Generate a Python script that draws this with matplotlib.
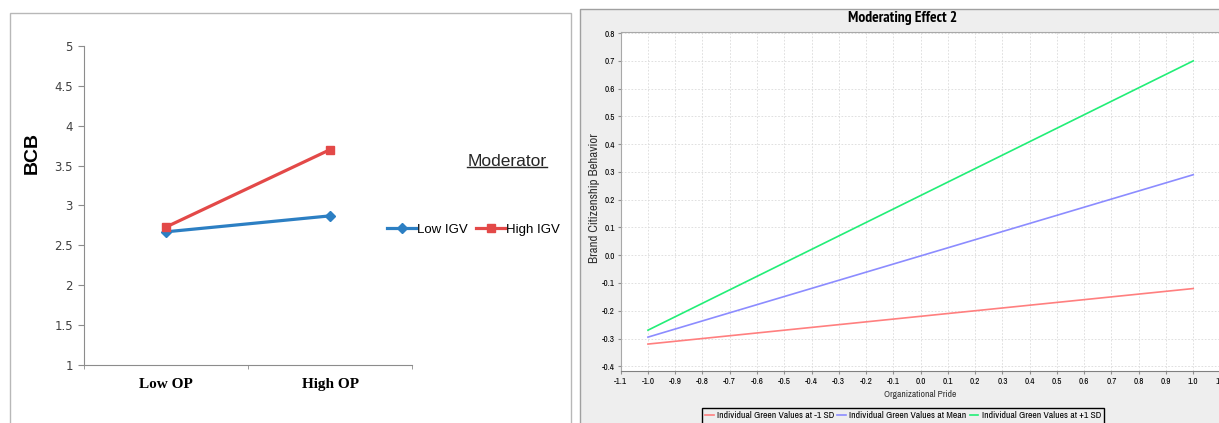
import os
import numpy as np
import matplotlib
matplotlib.use("Agg")
import matplotlib.pyplot as plt
from matplotlib import font_manager
from matplotlib.patches import Rectangle
from matplotlib.lines import Line2D

W, H = 1219, 423

# --- left chart (interaction plot) ---
op_levels = ['Low OP', 'High OP']
low_igv = [2.67, 2.87]
high_igv = [2.73, 3.70]
bcb_ticks = [1, 1.5, 2, 2.5, 3, 3.5, 4, 4.5, 5]

# --- right chart (simple slopes) ---
pride_ends = [-1.0, 1.0]
minus_sd = [-0.32, -0.12]
at_mean = [-0.295, 0.29]
plus_sd = [-0.27, 0.70]
series_names = ['Individual Green Values at -1 SD',
                'Individual Green Values at Mean',
                'Individual Green Values at +1 SD']
series_colors = ['#ff7f7f', '#8c8cff', '#22ee77']
pride_ticks = [round(v / 10, 1) for v in range(-11, 12)]
bcb2_ticks = [round(v / 10, 1) for v in range(-4, 9)]


def px(x, y):
    # pixel position in the reference -> figure fraction
    return x / W, 1 - y / H


def narrow(size, bold=False):
    # the java chart uses a narrow sans; prefer "narrow", then "condensed"
    cands = []
    for f in font_manager.fontManager.ttflist:
        name = os.path.basename(f.fname).lower()
        if 'narrow' not in name and 'condensed' not in name:
            continue
        if any(k in name for k in ('italic', 'oblique', 'light', 'thin', 'black', 'semi', 'extra', 'medium')):
            continue
        if ('bold' in name) != bold:
            continue
        cands.append((0 if 'narrow' in name else 1, f.fname))
    if cands:
        return font_manager.FontProperties(fname=sorted(cands)[0][1], size=size)
    return font_manager.FontProperties(family='Liberation Sans',
                                       weight='bold' if bold else 'normal', size=size)


def fit(texts, target, horizontal=True):
    # scale font size so the first text spans `target` pixels like in the reference
    r = fig.canvas.get_renderer()
    bb = texts[0].get_window_extent(r)
    cur = bb.width if horizontal else bb.height
    k = target / cur
    for t in texts:
        t.set_fontsize(t.get_fontsize() * k)


fig = plt.figure(figsize=(W / 100, H / 100), dpi=100)
fig.patch.set_facecolor('white')

# frame of the excel chart
fig.add_artist(Rectangle((10 / W, -0.02), 561 / W, 1 - 13 / H + 0.02, transform=fig.transFigure,
                         facecolor='white', edgecolor='#b8b8b8', lw=1, zorder=-2))
# grey panel of the java chart
fig.add_artist(Rectangle((580 / W, -0.02), 1 - 580 / W + 0.02, 1 - 9 / H + 0.02, transform=fig.transFigure,
                         facecolor='#eeeeee', edgecolor='#a0a0a0', lw=1, zorder=-2))

# ---------------- left ----------------
axl = fig.add_axes([84 / W, 1 - 365 / H, 328 / W, 319 / H])
axl.set_facecolor('white')
x = np.arange(len(op_levels))
axl.plot(x, low_igv, color='#2c7fc3', lw=2.3, marker='D', ms=5.5, label='Low IGV')
axl.plot(x, high_igv, color='#e34948', lw=2.3, marker='s', ms=6, label='High IGV')
axl.set_xlim(-0.5, len(op_levels) - 0.5)
axl.set_ylim(1, 5)
axl.set_yticks(bcb_ticks, [f'{t:g}' for t in bcb_ticks])
axl.set_xticks(x, op_levels, fontfamily='Liberation Serif', fontweight='bold', fontsize=11)
axl.set_xticks(np.arange(len(op_levels) + 1) - 0.5, minor=True)
axl.tick_params(axis='x', which='major', length=0, pad=9)
axl.tick_params(axis='x', which='minor', length=3, color='#8c8c8c')
axl.tick_params(axis='y', length=4, color='#8c8c8c', labelcolor='#404040', labelsize=8.5, pad=4)
for s in ['top', 'right']:
    axl.spines[s].set_visible(False)
for s in ['left', 'bottom']:
    axl.spines[s].set_color('#8c8c8c')

fig.text(*px(32, 153), 'BCB', rotation=90, ha='center', va='center',
         fontsize=14, fontweight='bold', family='Liberation Sans')
mod = fig.text(*px(507, 161), 'Moderator', ha='center', va='center',
               fontsize=12.5, family='Liberation Sans', color='#262626')

axl.legend(loc='center left', bbox_to_anchor=px(387, 230), bbox_transform=fig.transFigure,
           ncol=2, frameon=False, borderpad=0, borderaxespad=0, handlelength=2.2,
           handletextpad=0.1, columnspacing=0.6, prop={'family': 'Liberation Sans', 'size': 9.5})

# ---------------- right ----------------
axr = fig.add_axes([620.7 / W, 1 - 371 / H, (1220.5 - 620.7) / W, 339 / H])
axr.set_facecolor('white')
for vals, name, col in zip([minus_sd, at_mean, plus_sd], series_names, series_colors):
    axr.plot(pride_ends, vals, color=col, lw=1.2, label=name)
axr.set_xlim(-1.1, 1.1)
axr.set_ylim(-0.417, 0.804)
axr.set_xticks(pride_ticks, [f'{t:.1f}' for t in pride_ticks])
axr.set_yticks(bcb2_ticks, [f'{t:.1f}' for t in bcb2_ticks])
axr.grid(True, color='#dadada', ls=(0, (2, 2)), lw=0.6)
axr.tick_params(length=2, color='#909090', pad=2)
tick_fp = narrow(6.5)
for lab in axr.get_xticklabels() + axr.get_yticklabels():
    lab.set_fontproperties(tick_fp)
for s in axr.spines.values():
    s.set_color('#a8a8a8')
axr.spines['bottom'].set_color('#808080')

ylab = fig.text(*px(595, 198), 'Brand Citizenship Behavior', rotation=90, ha='center', va='center',
                fontproperties=narrow(7), color='#333333')
xlab = fig.text(*px(920, 394), 'Organizational Pride', ha='center', va='center',
                fontproperties=narrow(7), color='#333333')
title = fig.text(*px(903, 18), 'Moderating Effect 2', ha='center', va='center',
                 fontproperties=narrow(10.5, bold=True))

fig.canvas.draw()
fit([title], 110)
fit([xlab], 72)
fit([ylab], 131, horizontal=False)
xt = axr.get_xticklabels()
fit([xt[1]] + xt[:1] + xt[2:] + axr.get_yticklabels(), 13)

leg_fp = narrow(7)
leg = fig.legend(*axr.get_legend_handles_labels(), loc='upper center',
                 bbox_to_anchor=px(903, 408), ncol=3, fancybox=False, framealpha=1,
                 facecolor='#eeeeee', edgecolor='black', borderpad=0.35, borderaxespad=0,
                 handlelength=0.9, handletextpad=0.35, columnspacing=0.3, prop=leg_fp)
leg.get_frame().set_linewidth(1)
fig.canvas.draw()
fit(leg.get_texts(), 117)

# underline "Moderator"
fig.canvas.draw()
bb = mod.get_window_extent()
y_u = (bb.y0 + 1) / fig.bbox.height
fig.add_artist(Line2D([bb.x0 / fig.bbox.width, bb.x1 / fig.bbox.width], [y_u, y_u],
                      transform=fig.transFigure, color='#262626', lw=1))

fig.savefig('out.png', dpi=100)
